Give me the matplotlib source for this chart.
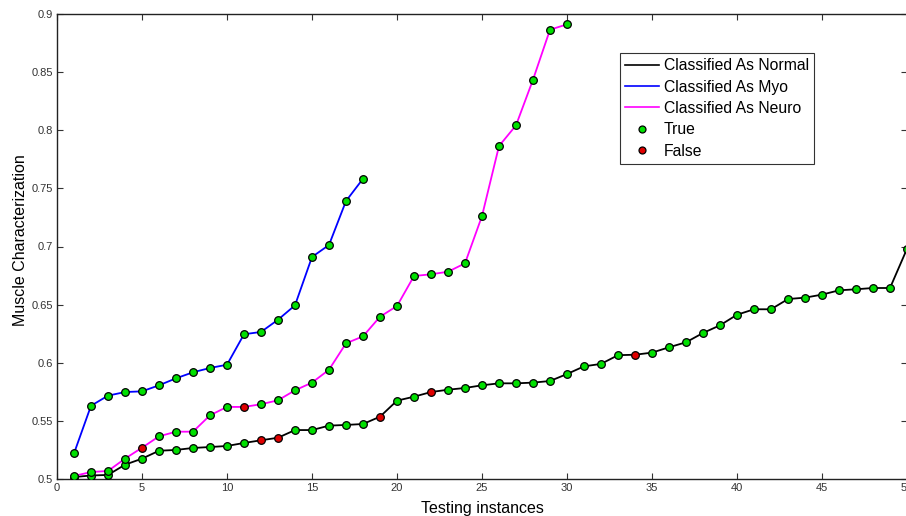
import matplotlib
matplotlib.use("Agg")
import matplotlib.pyplot as plt
from matplotlib.lines import Line2D
import numpy as np

plt.rcParams['font.family'] = ['Liberation Sans', 'DejaVu Sans']

# Data
normal_x = list(range(1, 51))
normal_y = [0.5017, 0.503, 0.5035, 0.5123, 0.5175, 0.5243, 0.525, 0.5267, 0.5275, 0.5284,
            0.531, 0.5333, 0.5355, 0.5421, 0.5421, 0.5459, 0.5465, 0.5473, 0.5536, 0.5674,
            0.5708, 0.5748, 0.5768, 0.5783, 0.5806, 0.5823, 0.5823, 0.5829, 0.5843, 0.5903,
            0.5969, 0.5990, 0.6065, 0.6069, 0.6087, 0.6133, 0.6176, 0.6256, 0.6322, 0.6413,
            0.646, 0.646, 0.6548, 0.656, 0.6586, 0.6623, 0.6632, 0.6643, 0.6643, 0.698]
normal_false = [1, 12, 13, 19, 22, 34]

myo_x = list(range(1, 19))
myo_y = [0.522, 0.563, 0.5717, 0.5748, 0.5754, 0.5806, 0.5866, 0.5918, 0.5955, 0.5983,
         0.6245, 0.6265, 0.637, 0.6494, 0.691, 0.7013, 0.7391, 0.7583]
myo_false = []

neuro_x = list(range(1, 31))
neuro_y = [0.5026, 0.506, 0.5069, 0.5175, 0.5269, 0.5367, 0.5407, 0.5407, 0.5548, 0.562,
           0.562, 0.5643, 0.5677, 0.5763, 0.5829, 0.594, 0.6167, 0.6227, 0.6396, 0.6488,
           0.6746, 0.6761, 0.6783, 0.6855, 0.7262, 0.7864, 0.8042, 0.8435, 0.8865, 0.8911]
neuro_false = [5, 11]

series = [
    ("Classified As Normal", normal_x, normal_y, normal_false, "#000000"),
    ("Classified As Myo", myo_x, myo_y, myo_false, "#0000ff"),
    ("Classified As Neuro", neuro_x, neuro_y, neuro_false, "#ff00ff"),
]

GREEN = "#00e000"
RED = "#e00000"

fig = plt.figure(figsize=(9.06, 5.16), dpi=100)
ax = fig.add_axes([57 / 906, 37 / 516, 850 / 906, 465 / 516])

for name, xs, ys, falses, col in series:
    ax.plot(xs, ys, color=col, lw=1.3, zorder=2)
for name, xs, ys, falses, col in series:
    xs_a = np.array(xs)
    ys_a = np.array(ys)
    mask = np.isin(xs_a, falses)
    ax.plot(xs_a[~mask], ys_a[~mask], 'o', ms=5.5, mfc=GREEN, mec='black', mew=0.9, zorder=3)
    if mask.any():
        ax.plot(xs_a[mask], ys_a[mask], 'o', ms=5.5, mfc=RED, mec='black', mew=0.9, zorder=3)

ax.set_xlim(0, 50)
ax.set_ylim(0.5, 0.9)
ax.set_xticks(np.arange(0, 51, 5))
ax.set_yticks(np.arange(0.5, 0.901, 0.05))
ax.set_yticklabels(["0.5", "0.55", "0.6", "0.65", "0.7", "0.75", "0.8", "0.85", "0.9"])
ax.tick_params(direction='in', length=4, width=0.8, top=True, right=True,
               labelsize=8, labelcolor='#333333', color='#333333', pad=3)
for s in ax.spines.values():
    s.set_linewidth(1.0)
    s.set_color('#222222')

ax.set_xlabel("Testing instances", fontsize=11.5, labelpad=5.5)
ax.set_ylabel("Muscle Characterization", fontsize=11.5)
ax.yaxis.set_label_coords(-0.034, 0.514)

handles = [Line2D([], [], color=c, lw=1.2) for (_, _, _, _, c) in series]
handles += [Line2D([], [], ls='none', marker='o', ms=5, mfc=GREEN, mec='black', mew=0.9),
            Line2D([], [], ls='none', marker='o', ms=5, mfc=RED, mec='black', mew=0.9)]
labels = [s[0] for s in series] + ["True", "False"]
leg = ax.legend(handles, labels, loc='upper left', bbox_to_anchor=(0.662, 0.916),
                fontsize=11.3, frameon=True, fancybox=False, borderpad=0.32,
                labelspacing=0.41, handlelength=2.2, handletextpad=0.3, borderaxespad=0)
leg.get_frame().set_edgecolor('black')
leg.get_frame().set_linewidth(0.8)

fig.savefig("out.png", dpi=100)
